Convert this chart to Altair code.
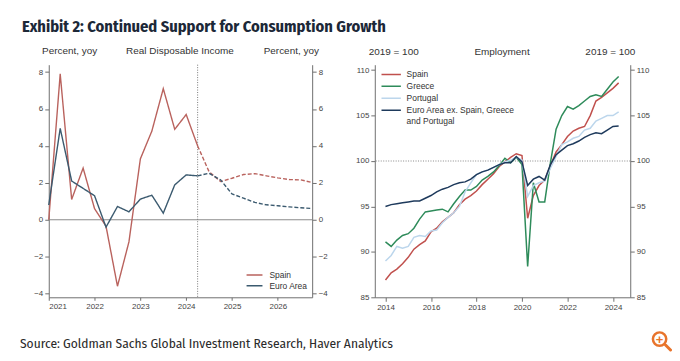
import altair as alt
import pandas as pd

# ---------------- Left panel: Real Disposable Income (% yoy), quarterly 2021Q1-2026Q4
rdi_quarters = ["2021Q1","2021Q2","2021Q3","2021Q4","2022Q1","2022Q2","2022Q3","2022Q4",
                "2023Q1","2023Q2","2023Q3","2023Q4","2024Q1","2024Q2","2024Q3","2024Q4",
                "2025Q1","2025Q2","2025Q3","2025Q4","2026Q1","2026Q2","2026Q3","2026Q4"]
rdi_spain = [0.0, 7.9, 1.1, 2.8, 0.6, -0.35, -3.6, -1.2, 3.3, 4.8, 7.1, 4.9, 5.7, 4.0,
             2.6, 2.07, 2.25, 2.45, 2.5, 2.38, 2.27, 2.18, 2.16, 2.02]
rdi_euro = [0.8, 4.95, 2.1, 1.7, 1.3, -0.4, 0.72, 0.43, 1.12, 1.33, 0.36, 1.89, 2.43, 2.38,
            2.52, 2.16, 1.4, 1.17, 0.94, 0.81, 0.76, 0.7, 0.65, 0.61]
rdi_last_actual = "2024Q2"
rdi_series = ["Spain", "Euro Area"]
rdi_colors = ["#b9625d", "#3b5a6f"]

# ---------------- Right panel: Employment (2019 = 100), quarterly 2014Q1-2024Q2
emp_quarters = [f"{y}Q{q}" for y in range(2014, 2025) for q in range(1, 5)][:42]
emp_spain = [86.9, 87.7, 88.1, 88.7, 89.4, 90.3, 90.8, 91.2, 92.2, 92.6, 93.3, 93.8,
             94.3, 95.2, 95.8, 96.2, 96.7, 97.4, 98.0, 98.6, 99.4, 99.9, 100.4, 100.8,
             100.6, 93.7, 96.2, 97.3, 97.9, 99.5, 101.0, 101.8, 102.7, 103.3, 103.6, 103.8,
             105.0, 106.6, 107.0, 107.5, 108.0, 108.6]
emp_greece = [91.1, 90.6, 91.3, 91.8, 92.0, 92.6, 93.6, 94.4, 94.5, 94.6, 94.7, 94.4,
              95.3, 96.1, 96.8, 96.8, 97.2, 97.9, 98.3, 98.8, 99.5, 100.3, 99.8, 100.4,
              99.6, 88.4, 97.6, 95.5, 95.5, 99.8, 103.5, 105.0, 106.0, 105.7, 106.1, 106.6,
              107.1, 107.3, 107.1, 107.9, 108.7, 109.3]
emp_portugal = [89.0, 89.6, 90.6, 90.4, 90.6, 91.6, 91.8, 91.7, 92.3, 92.4, 93.2, 93.8,
                94.3, 95.0, 96.6, 97.6, 98.5, 98.8, 99.0, 99.3, 99.6, 99.9, 100.1, 100.4,
                100.1, 96.1, 97.3, 97.6, 97.8, 99.2, 100.5, 101.8, 102.1, 102.5, 102.7, 103.4,
                103.6, 104.4, 104.7, 105.0, 105.0, 105.4]
emp_ea_ex = [95.0, 95.2, 95.3, 95.4, 95.5, 95.6, 95.6, 95.9, 96.2, 96.6, 96.9, 97.1,
             97.4, 97.6, 97.7, 98.0, 98.5, 98.8, 99.0, 99.3, 99.6, 99.8, 99.8, 100.5,
             99.9, 97.3, 98.0, 98.3, 97.9, 99.6, 100.7, 101.2, 101.7, 101.9, 102.2, 102.6,
             102.9, 103.1, 103.0, 103.4, 103.8, 103.85]
emp_series = ["Spain", "Greece", "Portugal", "Euro Area ex. Spain, Greece and Portugal"]
emp_colors = ["#c0504d", "#2e8b5a", "#bcd6ec", "#1e3a5c"]

title_text = "Exhibit 2: Continued Support for Consumption Growth"
source_text = "Source: Goldman Sachs Global Investment Research, Haver Analytics"


def qnum(q):
    return int(q[:4]) + (int(q[-1]) - 1) / 4.0


SANS = "Liberation Sans, Arial, sans-serif"
FIRA = "Fira Sans Condensed, Roboto Condensed, sans-serif"

# ---------- left data frame
rows = []
cut = rdi_quarters.index(rdi_last_actual)
for name, vals in zip(rdi_series, [rdi_spain, rdi_euro]):
    for i, (q, v) in enumerate(zip(rdi_quarters, vals)):
        if i <= cut:
            rows.append({"x": qnum(q), "y": v, "series": name, "seg": "actual", "grp": name + "a"})
        if i >= cut:
            rows.append({"x": qnum(q), "y": v, "series": name, "seg": "forecast", "grp": name + "f"})
df_left = pd.DataFrame(rows)

rows = []
for k, (name, vals) in enumerate(zip(emp_series, [emp_spain, emp_greece, emp_portugal, emp_ea_ex])):
    for q, v in zip(emp_quarters, vals):
        rows.append({"x": qnum(q), "y": v, "series": name, "ord": k})
df_right = pd.DataFrame(rows)


def label(text, x, y, size=10, color="#333333", align="center", weight="normal", font=SANS):
    return alt.Chart(pd.DataFrame({"t": [text]})).mark_text(
        align=align, baseline="alphabetic", fontSize=size, color=color,
        fontWeight=weight, font=font
    ).encode(x=alt.value(x), y=alt.value(y), text="t:N")


LW, LH = 265, 234
RW, RH = 257, 234

left_xscale = alt.Scale(domain=[2021, 2026.75], nice=False, zero=False)
left_yscale = alt.Scale(domain=[-4.2, 8.4], nice=False, zero=False)
yticks_left = [-4, -2, 0, 2, 4, 6, 8]

left_lines = alt.Chart(df_left).mark_line(strokeWidth=1.4).encode(
    x=alt.X("x:Q", scale=left_xscale, title=None,
            axis=alt.Axis(values=[qnum(q) for q in rdi_quarters],
                          labelExpr="datum.value % 1 === 0 ? format(datum.value, 'd') : ''",
                          labelOverlap=False, tickSize=3)),
    y=alt.Y("y:Q", scale=left_yscale, title=None,
            axis=alt.Axis(orient="left", values=yticks_left)),
    color=alt.Color("series:N", scale=alt.Scale(domain=rdi_series, range=rdi_colors),
                    legend=alt.Legend(title=None, orient="none", legendX=198, legendY=206,
                                      symbolType="stroke", symbolSize=256, symbolStrokeWidth=1.5,
                                      labelFontSize=8.5, labelFont=SANS, labelColor="#333",
                                      labelOffset=6, rowPadding=0, padding=0, clipHeight=11)),
    strokeDash=alt.StrokeDash("seg:N", scale=alt.Scale(domain=["actual", "forecast"],
                                                       range=[[1, 0], [4, 2]]), legend=None),
    detail="grp:N",
)

zero_rule = alt.Chart(pd.DataFrame({"y": [0]})).mark_rule(color="#8a8a8a", strokeWidth=1).encode(
    y=alt.Y("y:Q", scale=left_yscale, title=None,
            axis=alt.Axis(orient="right", values=yticks_left)))
fc_rule = alt.Chart(pd.DataFrame({"x": [qnum(rdi_last_actual)]})).mark_rule(
    color="#777", strokeWidth=1, strokeDash=[1, 1.5]).encode(x=alt.X("x:Q", scale=left_xscale))

left = alt.layer(
    zero_rule, fc_rule, left_lines,
    label("Percent, yoy", 21, -10.5),
    label("Real Disposable Income", 132, -10.5),
    label("Percent, yoy", 244, -10.5),
    label(source_text, -29, 285, size=13.5, color="#2b2b2b", align="left", font=FIRA),
).resolve_axis(y="independent").properties(width=LW, height=LH)

# ---------- right chart
right_xscale = alt.Scale(domain=[2013.53, 2024.76], nice=False, zero=False)
right_yscale = alt.Scale(domain=[85, 110.6], nice=False, zero=False)
yticks_right = [85, 90, 95, 100, 105, 110]

right_lines = alt.Chart(df_right).mark_line(strokeWidth=1.5).encode(
    x=alt.X("x:Q", scale=right_xscale, title=None,
            axis=alt.Axis(values=[2014, 2016, 2018, 2020, 2022, 2024], format="d")),
    y=alt.Y("y:Q", scale=right_yscale, title=None,
            axis=alt.Axis(orient="left", values=yticks_right)),
    color=alt.Color("series:N", scale=alt.Scale(domain=emp_series, range=emp_colors),
                    legend=alt.Legend(title=None, orient="none", legendX=6, legendY=4,
                                      symbolType="stroke", symbolSize=380, symbolStrokeWidth=1.5,
                                      labelFontSize=8.5, labelFont=SANS, labelColor="#333",
                                      labelOffset=5, rowPadding=0, padding=0, labelLimit=300,
                                      clipHeight=11.5,
                                      labelExpr="datum.label == 'Euro Area ex. Spain, Greece and Portugal' ? ['Euro Area ex. Spain, Greece', 'and Portugal'] : datum.label")),
    order=alt.Order("ord:Q"),
)

hundred = alt.Chart(pd.DataFrame({"y": [100]})).mark_rule(
    color="#888", strokeWidth=1, strokeDash=[1, 1.5]).encode(
    y=alt.Y("y:Q", scale=right_yscale, title=None,
            axis=alt.Axis(orient="right", values=yticks_right)))

ORANGE = "#e8742c"
icon_circle = alt.Chart(pd.DataFrame({"t": [1]})).mark_point(
    shape="circle", size=180, filled=False, stroke=ORANGE, strokeWidth=2.5, opacity=1).encode(
    x=alt.value(286.5), y=alt.value(276))
icon_handle = alt.Chart(pd.DataFrame({"t": [1]})).mark_rule(
    stroke=ORANGE, strokeWidth=3, strokeCap="round").encode(
    x=alt.value(292.5), y=alt.value(282), x2=alt.value(297.5), y2=alt.value(287))
icon_plus = label("+", 286.5, 280.5, size=13, color=ORANGE, weight="bold")

right = alt.layer(
    hundred, right_lines,
    label("2019 = 100", 19, -9.5),
    label("Employment", 128, -9.5),
    label("2019 = 100", 237, -9.5),
    icon_circle, icon_handle, icon_plus,
).resolve_axis(y="independent").properties(width=RW, height=RH)

chart = alt.hconcat(left, right, spacing=63, bounds="flush").resolve_scale(
    color="independent", strokeDash="independent"
).properties(
    title=alt.TitleParams(title_text, anchor="start", frame="group", dx=-27, offset=11,
                          font=FIRA, fontSize=16.5, fontWeight="bold", color="#1c2838"),
    padding={"left": 12, "top": 10, "right": 0, "bottom": 0},
    background="white",
).configure_view(stroke=None).configure_axis(
    grid=False, domainColor="#6f6f6f", tickColor="#6f6f6f", labelColor="#444444",
    labelFont=SANS, labelFontSize=8, tickSize=4, labelPadding=2, domainWidth=1,
)

chart.save("out.html", embed_options={"renderer": "svg", "actions": False})
